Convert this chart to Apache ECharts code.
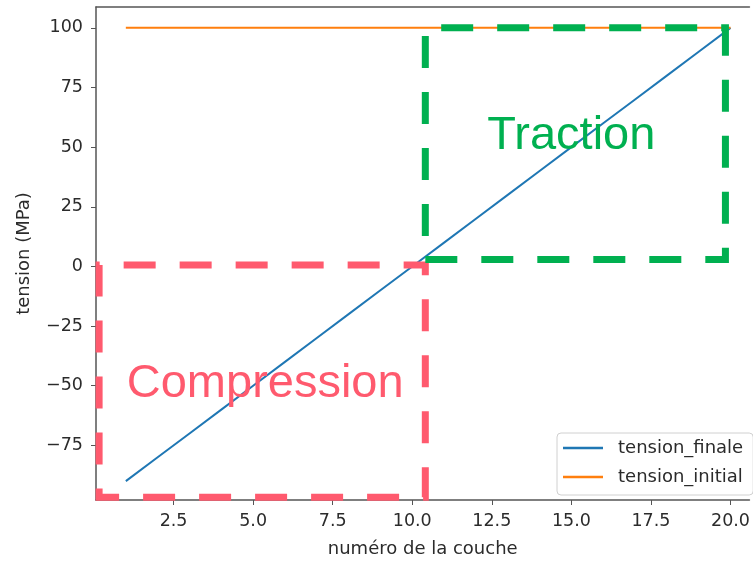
<!DOCTYPE html>
<html>
<head>
<meta charset="utf-8">
<script src="https://cdn.jsdelivr.net/npm/echarts@6/dist/echarts.min.js"></script>
<style>html,body{margin:0;padding:0;background:#fff}#c{width:753px;height:563px}</style>
</head>
<body>
<div id="c"></div>
<script>
// Data
const layers = [1,2,3,4,5,6,7,8,9,10,11,12,13,14,15,16,17,18,19,20];
const tensionFinale = [-90,-80,-70,-60,-50,-40,-30,-20,-10,0,10,20,30,40,50,60,70,80,90,100];
const tensionInitial = [100,100,100,100,100,100,100,100,100,100,100,100,100,100,100,100,100,100,100,100];
const xTicks = [2.5,5,7.5,10,12.5,15,17.5,20];
const yTicks = [-75,-50,-25,0,25,50,75,100];
const seriesNames = ['tension_finale','tension_initial'];
// Annotation boxes (data coordinates)
const compressionBox = {label:'Compression', x:[0.16,10.41], y:[-96.7,0.6]};
const tractionBox = {label:'Traction', x:[10.41,19.84], y:[2.9,100]};

const FONT = 'DejaVu Sans';
const TXT = '#2b2b2b';
const SPINE = '#555';
const chart = echarts.init(document.getElementById('c'), null, {renderer:'canvas'});

function pairs(xs, ys){ return xs.map((x,i)=>[x, ys[i]]); }
const fmtMinus = v => String(v).replace('-', '\u2212');

chart.setOption({
  animation:false,
  backgroundColor:'#fff',
  grid:{left:96, right:0, top:7, bottom:60, show:false},
  xAxis:[{
    type:'value', min:0.0625, max:20.594,
    name:'numéro de la couche', nameLocation:'middle', nameGap:40,
    nameTextStyle:{fontFamily:FONT, fontSize:18, color:TXT},
    axisLine:{show:true, onZero:false, lineStyle:{color:SPINE, width:1.5}},
    axisTick:{show:true, length:5, customValues:xTicks, lineStyle:{color:SPINE}},
    axisLabel:{customValues:xTicks, formatter:v=>Number(v).toFixed(1), fontFamily:FONT, fontSize:17.5, color:TXT, margin:12},
    splitLine:{show:false}
  },{
    type:'value', position:'top', min:0.0625, max:20.594,
    axisLine:{show:true, onZero:false, lineStyle:{color:SPINE, width:1.5}},
    axisTick:{show:false}, axisLabel:{show:false}, splitLine:{show:false}
  }],
  yAxis:{
    type:'value', min:-97.9, max:108.75,
    name:'tension (MPa)', nameLocation:'middle', nameGap:63, nameRotate:90,
    nameTextStyle:{fontFamily:FONT, fontSize:18, color:TXT},
    axisLine:{show:true, onZero:false, lineStyle:{color:SPINE, width:1.5}},
    axisTick:{show:true, length:5, customValues:yTicks, lineStyle:{color:SPINE}},
    axisLabel:{customValues:yTicks, formatter:fmtMinus, fontFamily:FONT, fontSize:17.5, color:TXT, margin:13},
    splitLine:{show:false}
  },
  legend:{
    data:seriesNames.map(n=>({name:n, icon:'rect'})), orient:'vertical', left:557, top:433,
    itemWidth:40, itemHeight:2.5, itemGap:11,
    padding:[6,10,9,6],
    borderColor:'#d0d0d0', borderWidth:1, borderRadius:4, backgroundColor:'#fff',
    textStyle:{fontFamily:FONT, fontSize:18, lineHeight:18, color:TXT, padding:[0,0,0,10]}
  },
  series:[
    {name:seriesNames[0], type:'line', data:pairs(layers,tensionFinale), symbol:'none', showSymbol:false,
     lineStyle:{color:'#1f77b4', width:2}, itemStyle:{color:'#1f77b4'}, z:2},
    {name:seriesNames[1], type:'line', data:pairs(layers,tensionInitial), symbol:'none', showSymbol:false,
     lineStyle:{color:'#ff7f0e', width:2}, itemStyle:{color:'#ff7f0e'}, z:2,
     markArea:{silent:true, z:5, data:[
       [{xAxis:compressionBox.x[0], yAxis:compressionBox.y[0],
         itemStyle:{color:'rgba(0,0,0,0)', borderColor:'#ff5a6e', borderWidth:7, borderType:[32,24], borderDashOffset:12},
         label:{show:true, position:'inside', offset:[3,2.5], formatter:compressionBox.label, fontFamily:'Liberation Sans', fontSize:47, color:'#ff5a6e'}},
        {xAxis:compressionBox.x[1], yAxis:compressionBox.y[1]}],
       [{xAxis:tractionBox.x[0], yAxis:tractionBox.y[0],
         itemStyle:{color:'rgba(0,0,0,0)', borderColor:'#00b050', borderWidth:7, borderType:[32,24]},
         label:{show:true, position:'inside', offset:[-4,-7.5], formatter:tractionBox.label, fontFamily:'Liberation Sans', fontSize:47, color:'#00b050'}},
        {xAxis:tractionBox.x[1], yAxis:tractionBox.y[1]}]
     ]}}
  ]
});
</script>
</body>
</html>
